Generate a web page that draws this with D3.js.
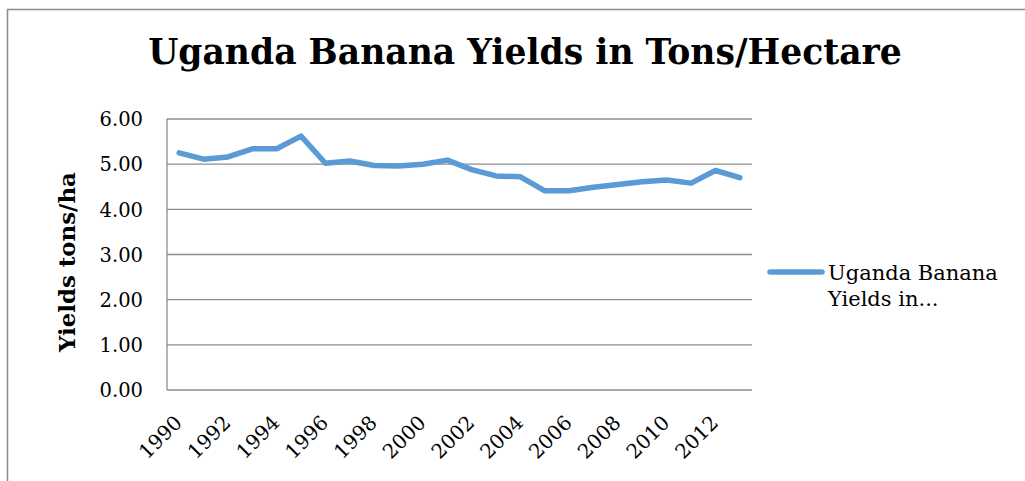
<!DOCTYPE html>
<html><head><meta charset="utf-8">
<script src="https://cdn.jsdelivr.net/npm/d3@7"></script>
<style>body{margin:0;background:#fff}svg{display:block}</style>
</head><body>
<svg id="c" width="1025" height="481"></svg>
<script>
const years = [1990,1991,1992,1993,1994,1995,1996,1997,1998,1999,2000,2001,2002,2003,2004,2005,2006,2007,2008,2009,2010,2011,2012,2013];
const yields = [5.25,5.11,5.16,5.34,5.34,5.62,5.02,5.07,4.97,4.96,5.00,5.09,4.88,4.74,4.72,4.41,4.41,4.49,4.55,4.61,4.65,4.58,4.86,4.70];
const yTicks = [0,1,2,3,4,5,6];
const xTickLabels = [1990,1992,1994,1996,1998,2000,2002,2004,2006,2008,2010,2012];
const titleText = "Uganda Banana Yields in Tons/Hectare";
const yTitle = "Yields tons/ha";
const legendLines = ["Uganda Banana","Yields in..."];

const font = "Georgia, 'DejaVu Serif', serif";
const svg = d3.select("#c");
const L=167,R=752,T=119,B=390;

svg.append("rect").attr("x",7.5).attr("y",9.5).attr("width",1030).attr("height",480)
  .attr("fill","none").attr("stroke","#8c8c8c").attr("stroke-width",1.5);

const x = d3.scaleBand().domain(years).range([L,R]);
const y = d3.scaleLinear().domain([0,6]).range([B,T]);

// gridlines
svg.append("g").selectAll("line").data(yTicks).join("line")
  .attr("x1",L).attr("x2",R).attr("y1",d=>y(d)).attr("y2",d=>y(d))
  .attr("stroke","#8c8c8c").attr("stroke-width",1.3);
svg.append("line").attr("x1",L).attr("x2",L).attr("y1",T).attr("y2",B)
  .attr("stroke","#8c8c8c").attr("stroke-width",1.3);

// y axis labels
const yAxis = d3.axisLeft(y).tickValues(yTicks).tickFormat(d3.format(".2f")).tickSize(0).tickPadding(0);
const gy = svg.append("g").attr("transform",`translate(143,0)`).call(yAxis);
gy.select(".domain").remove();
gy.selectAll("text").attr("font-family",font).attr("font-size",19.5).attr("fill","#000").attr("dy","0.35em");

// x axis labels
const xAxis = d3.axisBottom(x).tickValues(xTickLabels).tickSize(0).tickPadding(0);
const gx = svg.append("g").attr("transform",`translate(-1,419)`).call(xAxis);
gx.select(".domain").remove();
gx.selectAll("text").attr("font-family",font).attr("font-size",20).attr("fill","#000")
  .attr("text-anchor","end").attr("dy","0.35em").attr("transform","rotate(-45)");

// line
const line = d3.line().x(d=>x(d[0])+x.bandwidth()/2).y(d=>y(d[1]));
svg.append("path").datum(years.map((yr,i)=>[yr,yields[i]])).attr("d",line)
  .attr("fill","none").attr("stroke","#5b9bd5").attr("stroke-width",5.5)
  .attr("stroke-linejoin","round").attr("stroke-linecap","round");

// title
const t = svg.append("text").attr("x",525).attr("y",64).attr("text-anchor","middle")
  .attr("font-family",font).attr("font-weight","bold").attr("font-size",32).text(titleText);
const tw = t.node().getComputedTextLength();
t.attr("font-size",32*754/tw);

// y title
const yt = svg.append("text").attr("transform","translate(75,262) rotate(-90)").attr("text-anchor","middle")
  .attr("font-family",font).attr("font-weight","bold").attr("font-size",22).text(yTitle);
const yw = yt.node().getComputedTextLength();
yt.attr("font-size",22*180/yw);

// legend
svg.append("line").attr("x1",770).attr("x2",822).attr("y1",272).attr("y2",272)
  .attr("stroke","#5b9bd5").attr("stroke-width",5.5).attr("stroke-linecap","round");
svg.append("g").selectAll("text").data(legendLines).join("text")
  .attr("x",828).attr("y",(d,i)=>280+i*26)
  .attr("font-family",font).attr("font-size",21).attr("fill","#000").text(d=>d);
</script>
</body></html>
